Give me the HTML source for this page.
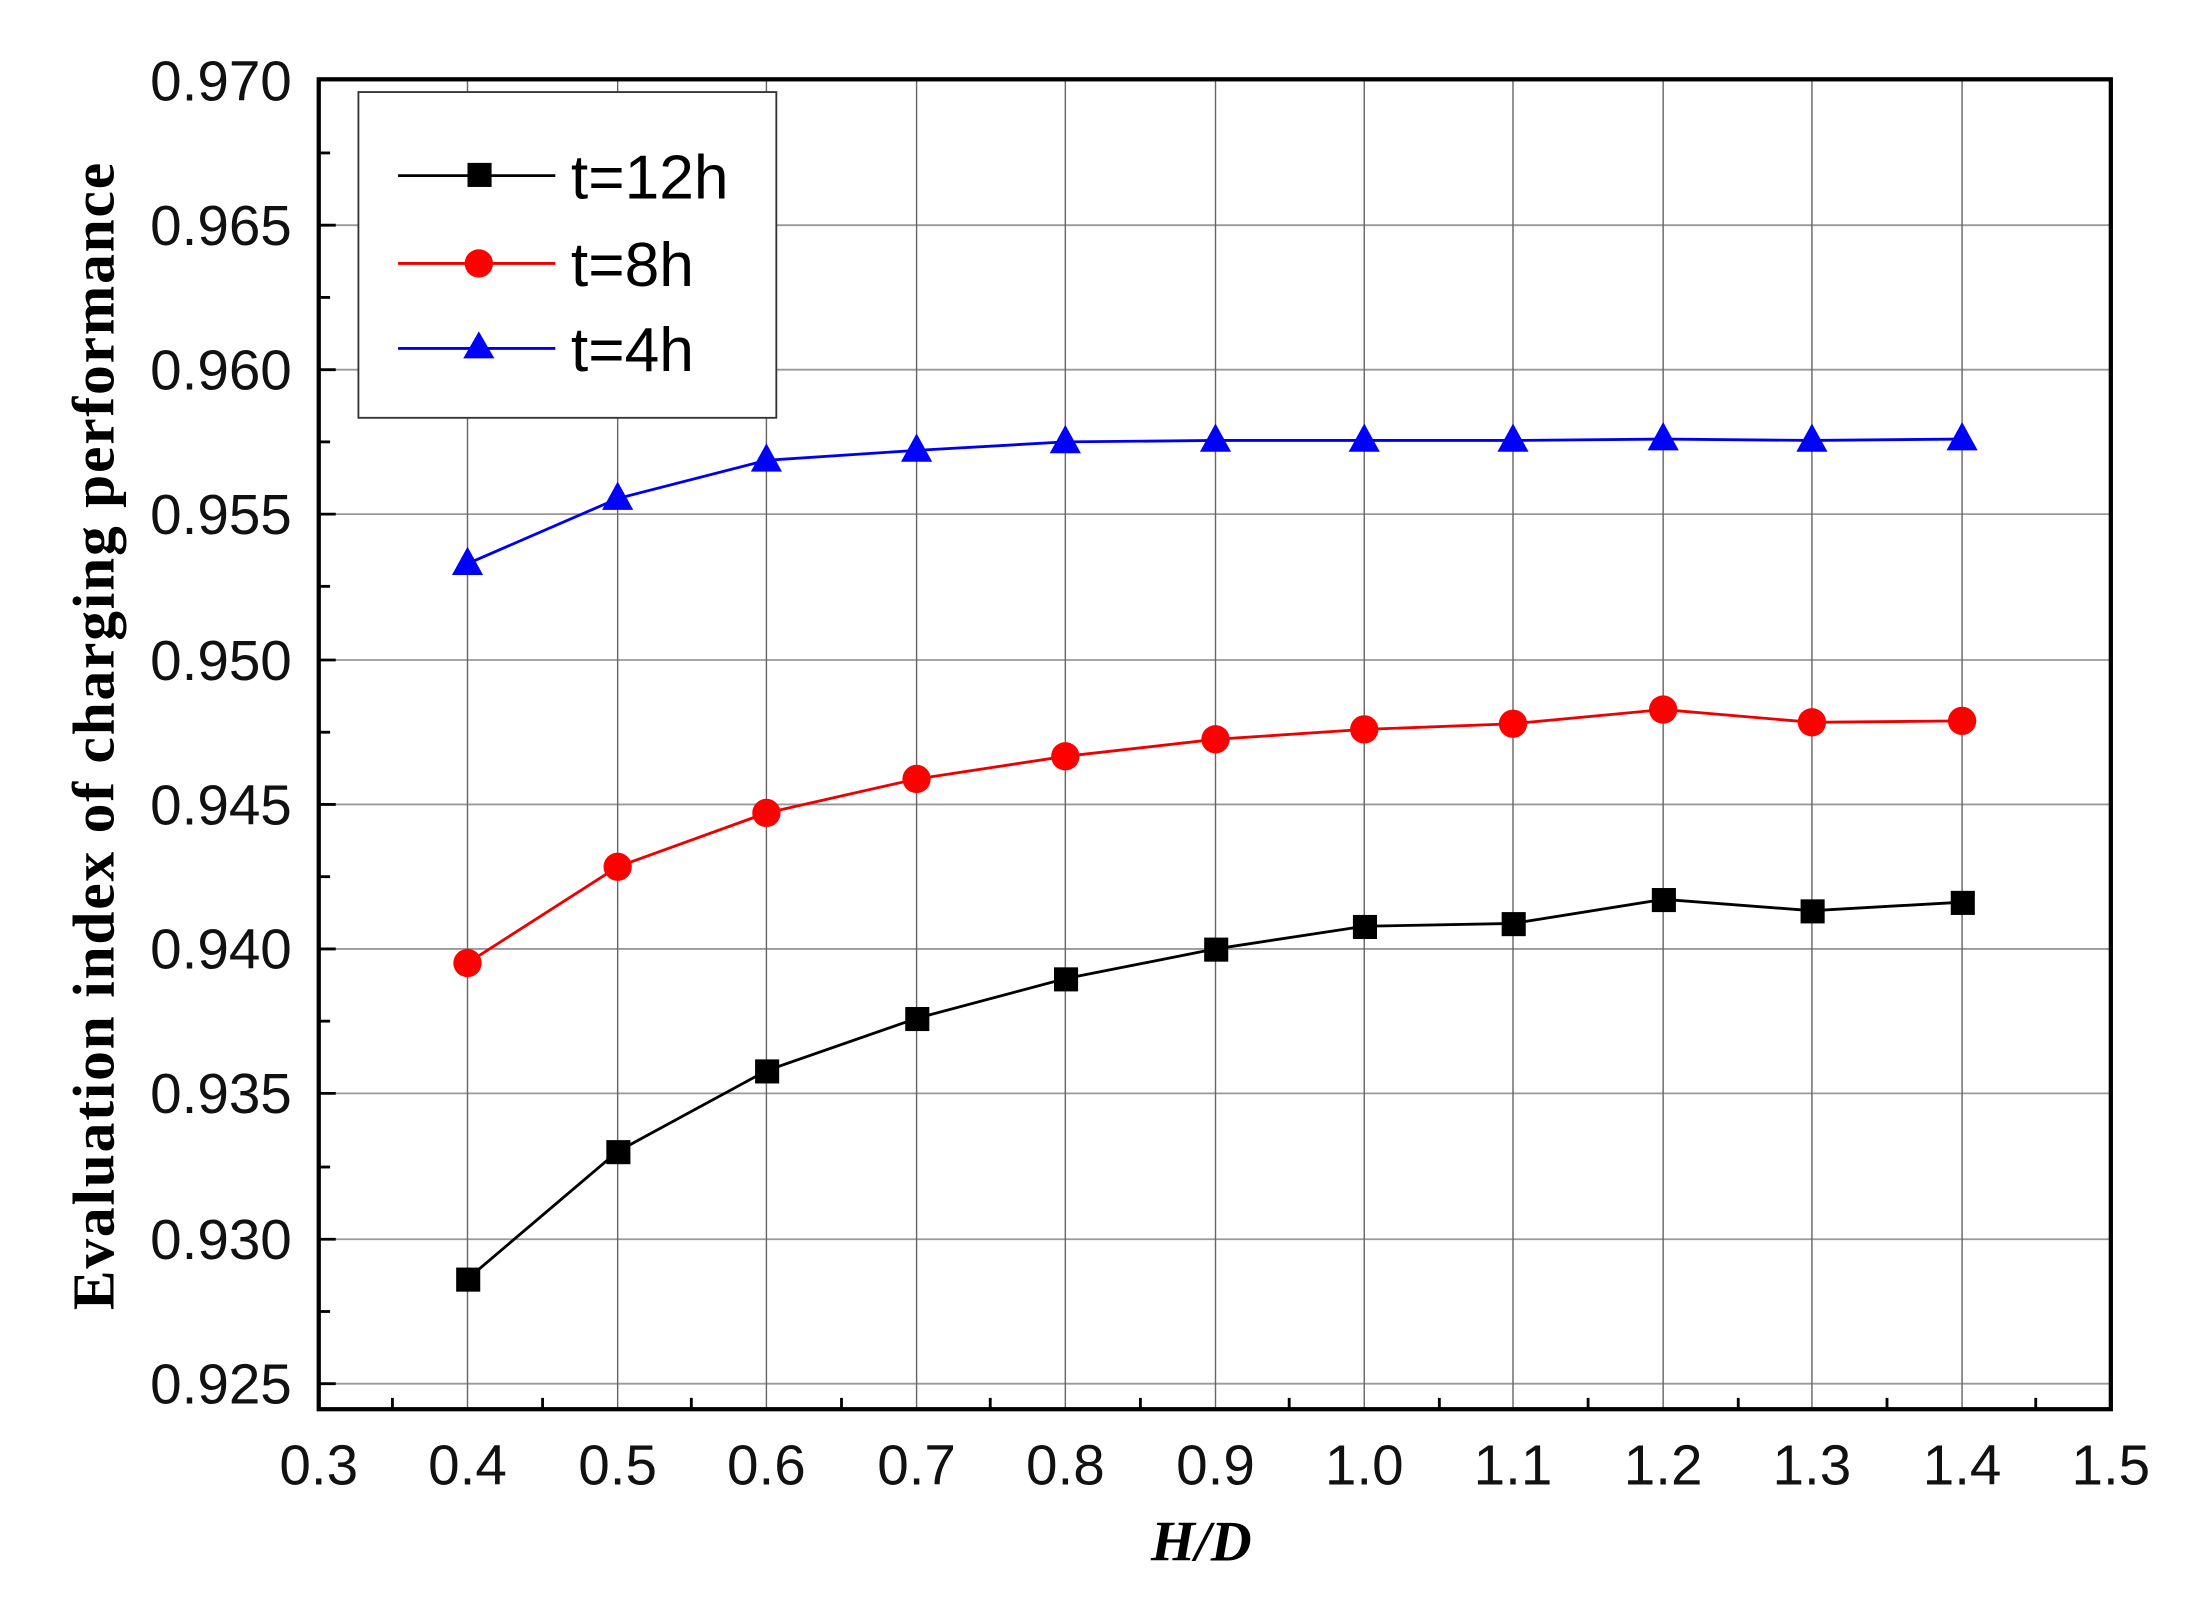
<!DOCTYPE html>
<html><head><meta charset="utf-8"><style>html,body{margin:0;padding:0;background:#fff}svg{display:block}</style></head>
<body>
<svg width="2210" height="1599" viewBox="0 0 1560 1129" preserveAspectRatio="none" xmlns="http://www.w3.org/2000/svg">
<rect width="1560" height="1129" fill="#fff"/>
<g stroke="#999" stroke-width="1.3">
<line x1="225" y1="159" x2="1490" y2="159"/><line x1="225" y1="261" x2="1490" y2="261"/><line x1="225" y1="363" x2="1490" y2="363"/><line x1="225" y1="466" x2="1490" y2="466"/><line x1="225" y1="568" x2="1490" y2="568"/><line x1="225" y1="670" x2="1490" y2="670"/><line x1="225" y1="772" x2="1490" y2="772"/><line x1="225" y1="875" x2="1490" y2="875"/><line x1="225" y1="977" x2="1490" y2="977"/>
</g>
<g stroke="#666" stroke-width="1">
<line x1="330" y1="57" x2="330" y2="995"/><line x1="436" y1="57" x2="436" y2="995"/><line x1="541" y1="57" x2="541" y2="995"/><line x1="647" y1="57" x2="647" y2="995"/><line x1="752" y1="57" x2="752" y2="995"/><line x1="858" y1="57" x2="858" y2="995"/><line x1="963" y1="57" x2="963" y2="995"/><line x1="1068" y1="57" x2="1068" y2="995"/><line x1="1174" y1="57" x2="1174" y2="995"/><line x1="1279" y1="57" x2="1279" y2="995"/><line x1="1385" y1="57" x2="1385" y2="995"/>
</g>
<g stroke="#000" stroke-width="2">
<line x1="225" y1="108" x2="233" y2="108"/><line x1="225" y1="210" x2="233" y2="210"/><line x1="225" y1="312" x2="233" y2="312"/><line x1="225" y1="414" x2="233" y2="414"/><line x1="225" y1="517" x2="233" y2="517"/><line x1="225" y1="619" x2="233" y2="619"/><line x1="225" y1="721" x2="233" y2="721"/><line x1="225" y1="824" x2="233" y2="824"/><line x1="225" y1="926" x2="233" y2="926"/>
<line x1="225" y1="159" x2="237" y2="159"/><line x1="225" y1="261" x2="237" y2="261"/><line x1="225" y1="363" x2="237" y2="363"/><line x1="225" y1="466" x2="237" y2="466"/><line x1="225" y1="568" x2="237" y2="568"/><line x1="225" y1="670" x2="237" y2="670"/><line x1="225" y1="772" x2="237" y2="772"/><line x1="225" y1="875" x2="237" y2="875"/><line x1="225" y1="977" x2="237" y2="977"/>
<line x1="277" y1="995" x2="277" y2="987"/><line x1="383" y1="995" x2="383" y2="987"/><line x1="488" y1="995" x2="488" y2="987"/><line x1="594" y1="995" x2="594" y2="987"/><line x1="699" y1="995" x2="699" y2="987"/><line x1="805" y1="995" x2="805" y2="987"/><line x1="910" y1="995" x2="910" y2="987"/><line x1="1016" y1="995" x2="1016" y2="987"/><line x1="1121" y1="995" x2="1121" y2="987"/><line x1="1227" y1="995" x2="1227" y2="987"/><line x1="1332" y1="995" x2="1332" y2="987"/><line x1="1437" y1="995" x2="1437" y2="987"/>
</g>
<rect x="225" y="56" width="1265" height="939" fill="none" stroke="#000" stroke-width="3"/>
<rect x="253" y="65" width="295" height="230" fill="#fff" stroke="#333" stroke-width="1.3"/>
<g font-family="Liberation Sans, sans-serif" font-size="44" fill="#000">
<text x="403" y="140">t=12h</text><text x="403" y="202">t=8h</text><text x="403" y="262">t=4h</text>
</g>
<line x1="281" y1="124" x2="392" y2="124" stroke="#000" stroke-width="2"/><rect x="330" y="115" width="17" height="17" fill="#000"/>
<line x1="281" y1="186" x2="392" y2="186" stroke="#e00" stroke-width="2"/><circle cx="338" cy="186" r="10" fill="#f00"/>
<line x1="281" y1="246" x2="392" y2="246" stroke="#00e" stroke-width="2"/><polygon points="338,234 327,253 349,253" fill="#00f"/>
<g font-family="Liberation Sans, sans-serif" font-size="40" fill="#111" text-anchor="end">
<text x="206" y="71" textLength="100">0.970</text><text x="206" y="173" textLength="100">0.965</text><text x="206" y="275" textLength="100">0.960</text><text x="206" y="377" textLength="100">0.955</text><text x="206" y="480" textLength="100">0.950</text><text x="206" y="582" textLength="100">0.945</text><text x="206" y="684" textLength="100">0.940</text><text x="206" y="786" textLength="100">0.935</text><text x="206" y="889" textLength="100">0.930</text><text x="206" y="991" textLength="100">0.925</text>
</g>
<g font-family="Liberation Sans, sans-serif" font-size="40" fill="#111" text-anchor="middle">
<text x="225" y="1048">0.3</text><text x="330" y="1048">0.4</text><text x="436" y="1048">0.5</text><text x="541" y="1048">0.6</text><text x="647" y="1048">0.7</text><text x="752" y="1048">0.8</text><text x="858" y="1048">0.9</text><text x="963" y="1048">1.0</text><text x="1068" y="1048">1.1</text><text x="1174" y="1048">1.2</text><text x="1279" y="1048">1.3</text><text x="1385" y="1048">1.4</text><text x="1490" y="1048">1.5</text>
</g>
<text x="848" y="1102" font-family="Liberation Serif, serif" font-size="40" font-style="italic" font-weight="bold" text-anchor="middle">H/D</text>
<text transform="translate(80,520) rotate(-90)" font-family="Liberation Serif, serif" font-size="42" font-weight="bold" text-anchor="middle" textLength="810">Evaluation index of charging performance</text>
<polyline fill="none" stroke="#00e" stroke-width="2" points="330,398 436,352 541,325 647,318 752,312 858,311 963,311 1068,311 1174,310 1279,311 1385,310"/>
<g fill="#00f">
<polygon points="330,386 319,406 341,406"/><polygon points="436,340 425,360 447,360"/><polygon points="541,313 530,333 552,333"/><polygon points="647,306 636,326 658,326"/><polygon points="752,300 741,320 763,320"/><polygon points="858,299 847,319 869,319"/><polygon points="963,299 952,319 974,319"/><polygon points="1068,299 1057,319 1079,319"/><polygon points="1174,298 1163,318 1185,318"/><polygon points="1279,299 1268,319 1290,319"/><polygon points="1385,298 1374,318 1396,318"/>
</g>
<polyline fill="none" stroke="#e00" stroke-width="2" points="330,680 436,612 541,574 647,550 752,534 858,522 963,515 1068,511 1174,501 1279,510 1385,509"/>
<g fill="#f00">
<circle cx="330" cy="680" r="10"/><circle cx="436" cy="612" r="10"/><circle cx="541" cy="574" r="10"/><circle cx="647" cy="550" r="10"/><circle cx="752" cy="534" r="10"/><circle cx="858" cy="522" r="10"/><circle cx="963" cy="515" r="10"/><circle cx="1068" cy="511" r="10"/><circle cx="1174" cy="501" r="10"/><circle cx="1279" cy="510" r="10"/><circle cx="1385" cy="509" r="10"/>
</g>
<polyline fill="none" stroke="#000" stroke-width="2" points="330,903 436,813 541,756 647,719 752,691 858,670 963,654 1068,652 1174,635 1279,643 1385,637"/>
<g fill="#000">
<rect x="322" y="895" width="17" height="17"/><rect x="428" y="805" width="17" height="17"/><rect x="533" y="748" width="17" height="17"/><rect x="639" y="711" width="17" height="17"/><rect x="744" y="683" width="17" height="17"/><rect x="850" y="662" width="17" height="17"/><rect x="955" y="646" width="17" height="17"/><rect x="1060" y="644" width="17" height="17"/><rect x="1166" y="627" width="17" height="17"/><rect x="1271" y="635" width="17" height="17"/><rect x="1377" y="629" width="17" height="17"/>
</g>
</svg>
</body></html>
